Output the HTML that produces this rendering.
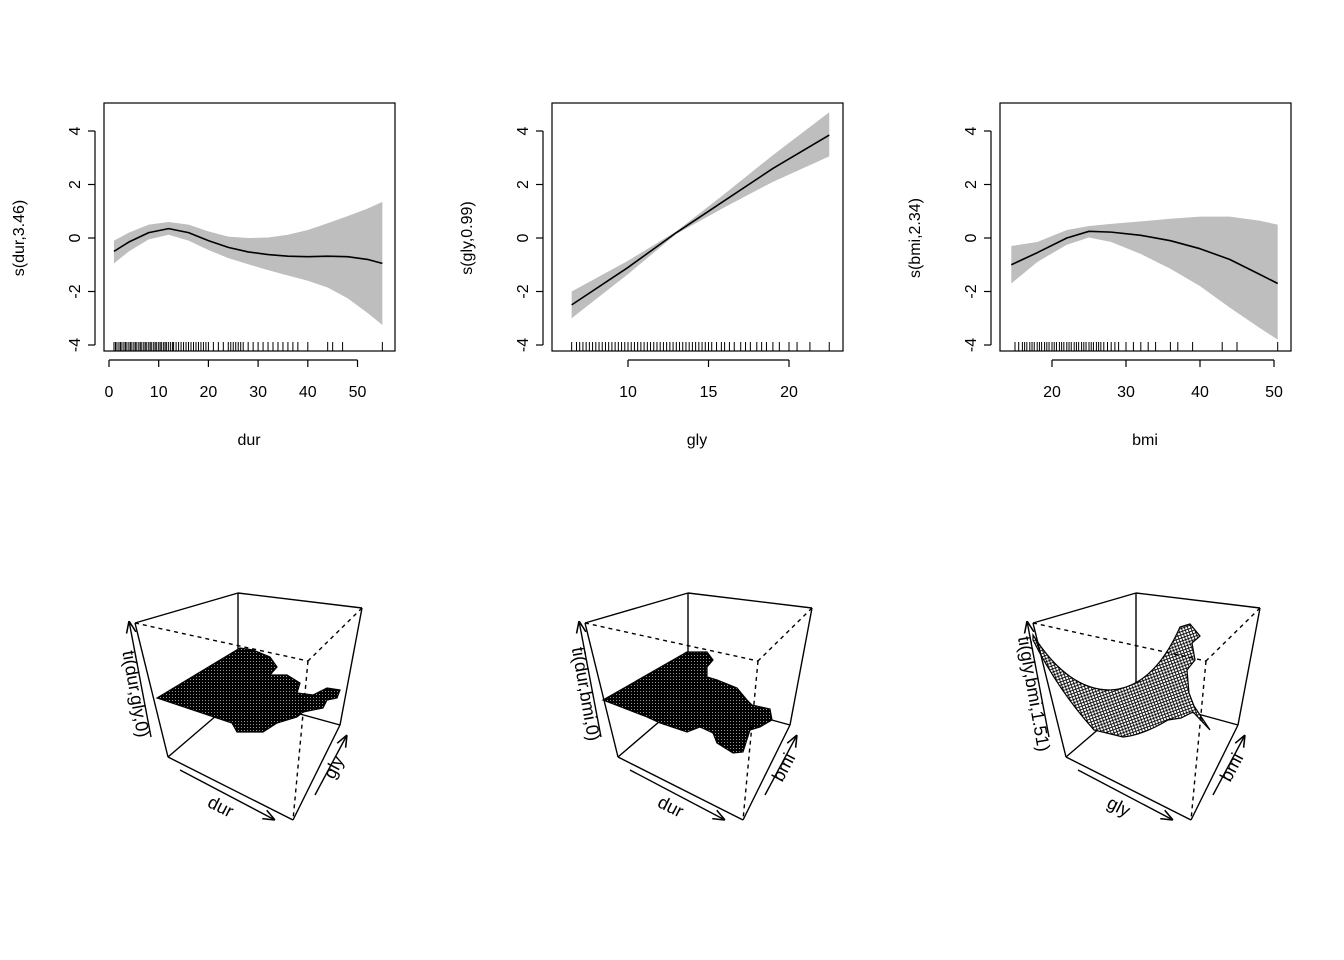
<!DOCTYPE html>
<html><head><meta charset="utf-8"><style>
html,body{margin:0;padding:0;background:#fff}
svg{display:block;font-family:"Liberation Sans",Arial,sans-serif}
</style></head><body>
<svg id="c" width="1344" height="960" viewBox="0 0 1344 960" xmlns="http://www.w3.org/2000/svg">
<defs>
<pattern id="mesh" width="3" height="3" patternUnits="userSpaceOnUse"><rect width="3" height="3" fill="#000"/><rect x="1" y="1" width="1" height="1" fill="#fff" opacity="0.6"/></pattern>
<pattern id="mesh2" width="3" height="3" patternUnits="userSpaceOnUse" patternTransform="rotate(-20)"><rect width="3" height="3" fill="#fff"/><path d="M0 0H3M0 0V3" stroke="#000" stroke-width="1.7"/></pattern>
<marker id="ar" viewBox="0 0 10 10" refX="10" refY="5" markerWidth="12" markerHeight="12" orient="auto" markerUnits="userSpaceOnUse"><path d="M0 1L10 5L0 9" fill="none" stroke="#000" stroke-width="1.3"/></marker>
</defs>
</svg>
<script>
// ---- data ----
const durX=[1,4,8,12,16,20,24,28,32,36,40,44,48,52,55];
const durFit=[-0.5,-0.15,0.2,0.35,0.2,-0.1,-0.35,-0.52,-0.62,-0.68,-0.7,-0.68,-0.7,-0.8,-0.95];
const durUp=[-0.1,0.2,0.5,0.6,0.5,0.25,0.05,0,0.02,0.12,0.3,0.55,0.82,1.1,1.35];
const durLo=[-0.95,-0.5,-0.05,0.12,-0.1,-0.45,-0.75,-0.98,-1.2,-1.4,-1.6,-1.85,-2.25,-2.8,-3.25];
const glyX=[6.5,10,13,16,19,22.5];
const glyFit=[-2.5,-1.1,0.2,1.4,2.6,3.85];
const glyUp=[-2.0,-0.85,0.25,1.65,3.1,4.7];
const glyLo=[-3.0,-1.35,0.15,1.15,2.1,3.05];
const bmiX=[14.5,18,22,25,28,32,36,40,44,48,50.5];
const bmiFit=[-1.0,-0.55,0.0,0.25,0.22,0.1,-0.1,-0.4,-0.8,-1.35,-1.7];
const bmiUp=[-0.3,-0.15,0.3,0.45,0.53,0.62,0.72,0.8,0.8,0.65,0.5];
const bmiLo=[-1.7,-0.9,-0.25,0.02,-0.15,-0.6,-1.15,-1.8,-2.6,-3.35,-3.8];
const durRug=[1,1.3,1.6,2,2.3,2.6,3,3.3,3.6,4,4.3,4.6,5,5.3,5.6,6,6.3,6.6,7,7.3,7.6,8,8.3,8.6,9,9.3,9.6,10,10.3,10.6,11,11.3,11.6,12,12.4,12.8,13,13.5,14,14.5,15,15.5,16,16.5,17,17.5,18,18.5,19,19.5,20,21,22,23,24,24.5,25,25.5,26,26.5,27,28,29,30,31,32,33,34,35,36,37,38,40,44,45,47,55];
const glyRug=[6.5,6.8,7,7.2,7.4,7.6,7.8,8,8.2,8.4,8.6,8.8,9,9.2,9.4,9.6,9.8,10,10.2,10.4,10.6,10.8,11,11.2,11.4,11.6,11.8,12,12.2,12.4,12.6,12.8,13,13.2,13.4,13.6,13.8,14,14.2,14.4,14.6,14.8,15,15.2,15.5,15.8,16,16.3,16.6,17,17.3,17.6,18,18.3,18.6,19,19.4,20,20.5,21.3,22.5];
const bmiRug=[15,15.5,16,16.3,16.6,17,17.3,17.6,18,18.3,18.6,19,19.3,19.6,20,20.3,20.6,21,21.3,21.6,22,22.3,22.6,23,23.3,23.6,24,24.3,24.6,25,25.3,25.6,26,26.3,26.6,27,27.5,28,28.5,29,30,31,32,33,34,36,37,39,43,45,50.5];
const yTicks=[-4,-2,0,2,4];
const durTicks=[0,10,20,30,40,50];
const glyTicks=[10,15,20];
const bmiTicks=[20,30,40,50];

const svg=document.getElementById('c');
const NS='http://www.w3.org/2000/svg';
function mk(tag,attrs,parent){const e=document.createElementNS(NS,tag);for(const k in attrs)e.setAttribute(k,attrs[k]);(parent||svg).appendChild(e);return e;}

function panel(p){
  const g=mk('g',{});
  
  
  const sx=v=>p.x0+(v-p.xa)*p.xs;
  const sy=v=>238-v*26.75;
  let d='M'+p.X.map((v,i)=>sx(v)+' '+sy(p.up[i])).join('L');
  for(let i=p.X.length-1;i>=0;i--)d+='L'+sx(p.X[i])+' '+sy(p.lo[i]);
  const band=mk('path',{d:d+'Z',fill:'#bebebe'},g);
  
  
  const ln=mk('path',{d:'M'+p.X.map((v,i)=>sx(v)+' '+sy(p.fit[i])).join('L'),fill:'none',stroke:'#000','stroke-width':1.6,'stroke-linejoin':'round'},g);
  
  
  const rug=mk('g',{},g);
  
  
  p.rug.forEach(v=>{const t=mk('line',{x1:sx(v),x2:sx(v),y1:342,y2:351,stroke:'#000','stroke-width':1},rug);
    
    });
  const box=mk('rect',{x:p.bx,y:103,width:291,height:248,fill:'none',stroke:'#000','stroke-width':1.2},g);
  
  
  const ya=mk('g',{},g);
  
  
  mk('line',{x1:p.bx-9,x2:p.bx-9,y1:sy(-4),y2:sy(4),stroke:'#000','stroke-width':1.2},ya);
  yTicks.forEach(v=>{mk('line',{x1:p.bx-9,x2:p.bx-16,y1:sy(v),y2:sy(v),stroke:'#000','stroke-width':1.2},ya);
    const t=mk('text',{x:p.bx-24,y:sy(v),'font-size':16,'text-anchor':'middle',transform:`rotate(-90 ${p.bx-24} ${sy(v)})`},ya);t.textContent=v;});
  const yl=mk('text',{x:p.bx-80,y:238,'font-size':16,'text-anchor':'middle',transform:`rotate(-90 ${p.bx-80} 238)`},g);
  yl.textContent=p.ylab;
  
  
  const xa=mk('g',{},g);
  
  
  mk('line',{x1:sx(p.ticks[0]),x2:sx(p.ticks[p.ticks.length-1]),y1:360,y2:360,stroke:'#000','stroke-width':1.2},xa);
  p.ticks.forEach(v=>{mk('line',{x1:sx(v),x2:sx(v),y1:360,y2:367,stroke:'#000','stroke-width':1.2},xa);
    const t=mk('text',{x:sx(v),y:397,'font-size':16,'text-anchor':'middle'},xa);t.textContent=v;});
  const xl=mk('text',{x:p.bx+145,y:445,'font-size':16,'text-anchor':'middle'},g);
  xl.textContent=p.xlab;
  
  
}
panel({name:'dur',bx:104,x0:109,xa:0,xs:4.97,X:durX,fit:durFit,up:durUp,lo:durLo,rug:durRug,ticks:durTicks,ylab:'s(dur,3.46)',xlab:'dur'});
panel({name:'gly',bx:552,x0:628,xa:10,xs:16.1,X:glyX,fit:glyFit,up:glyUp,lo:glyLo,rug:glyRug,ticks:glyTicks,ylab:'s(gly,0.99)',xlab:'gly'});
panel({name:'bmi',bx:1000,x0:1052,xa:20,xs:7.4,X:bmiX,fit:bmiFit,up:bmiUp,lo:bmiLo,rug:bmiRug,ticks:bmiTicks,ylab:'s(bmi,2.34)',xlab:'bmi'});

function cube(dx,name,zlab,xlab,ylab,blob,fillId){
  const g=mk('g',{transform:`translate(${dx} 0)`});
  
  
  const L=(a,b,dash)=>mk('line',{x1:a[0],y1:a[1],x2:b[0],y2:b[1],stroke:'#000','stroke-width':1.4,'stroke-dasharray':dash?'4 4':'none'},g);
  const TB=[238,593],TL=[135,623],TR=[362,608],IT=[308,661],BL=[168,757],BF=[293,820],BR=[340,725],BB=[238,697];
  L(TB,BB);L(BB,BL);L(BB,BR);
  const s=mk('path',{d:blob,fill:`url(#${fillId})`,stroke:'#000','stroke-width':1.2},g);
  
  
  L(TL,IT,true);L(TR,IT,true);L(IT,BF,true);
  L(TL,TB);L(TB,TR);L(TR,BR);L(BR,BF);L(BF,BL);L(BL,TL);
  mk('line',{x1:151,y1:737,x2:129,y2:621,stroke:'#000','stroke-width':1.4,'marker-end':'url(#ar)'},g);
  mk('line',{x1:180,y1:770,x2:275,y2:820,stroke:'#000','stroke-width':1.4,'marker-end':'url(#ar)'},g);
  mk('line',{x1:315,y1:795,x2:347,y2:735,stroke:'#000','stroke-width':1.4,'marker-end':'url(#ar)'},g);
  const t1=mk('text',{x:130,y:695,'font-size':18,'text-anchor':'middle',transform:'rotate(80 130 695)'},g);t1.textContent=zlab;
  
  
  const t2=mk('text',{x:218,y:812,'font-size':18,'text-anchor':'middle',transform:'rotate(27 218 812)'},g);t2.textContent=xlab;
  
  
  const t3=mk('text',{x:339,y:770,'font-size':18,'text-anchor':'middle',transform:'rotate(-62 339 770)'},g);t3.textContent=ylab;
  
  
}
cube(0,'dur-gly','ti(dur,gly,0)','dur','gly',
 'M157 698L240 648L253 650L270 657L277 667L270 675L287 675L300 683L297 693L313 695L327 688L340 690L337 698L327 700L323 708L303 712L297 717L277 723L263 732L237 732L232 723Z','mesh');
cube(450,'dur-bmi','ti(dur,bmi,0)','dur','bmi',
 'M153 700L237 652L257 652L263 660L257 667L257 677L267 680L287 688L297 700L302 705L320 709L322 720L310 727L300 730L293 752L283 753L267 743L263 733L250 727L237 732L210 723L197 717Z','mesh');
cube(898,'gly-bmi','ti(gly,bmi,1.51)','gly','bmi',
 'M135 635Q170 690 212 690Q255 688 282 627L292 624L302 636L294 643L297 660L289 670L291 693L296 706L312 730L295 712L283 718L270 720Q245 735 225 737L196 730Q160 690 135 640Z','mesh2');
</script>
</body></html>
